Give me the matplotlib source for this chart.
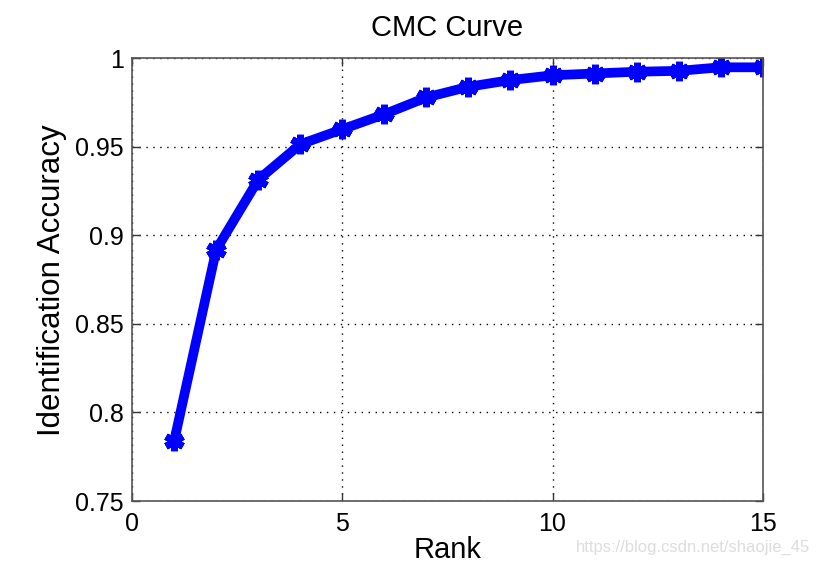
import matplotlib
matplotlib.use('Agg')
import matplotlib.pyplot as plt

# CMC values
ranks = [1, 2, 3, 4, 5, 6, 7, 8, 9, 10, 11, 12, 13, 14, 15]
accuracy = [0.784, 0.892, 0.9315, 0.9515, 0.960, 0.9685, 0.978, 0.984,
            0.9878, 0.9905, 0.9915, 0.9925, 0.993, 0.995, 0.995]
xticks = [0, 5, 10, 15]
yticks = [0.75, 0.8, 0.85, 0.9, 0.95, 1.0]
ytick_labels = ['0.75', '0.8', '0.85', '0.9', '0.95', '1']

plt.rcParams['font.family'] = ['Liberation Sans', 'DejaVu Sans']

fig = plt.figure(figsize=(8.21, 5.67), dpi=100)
ax = fig.add_axes([0.161, 0.1164, 0.768, 0.7805])

ax.plot(ranks, accuracy, color='#0000ff', linewidth=7,
        marker=(6, 2, 0), markersize=14, markeredgewidth=5,
        markeredgecolor='#0000ff', solid_joinstyle='round')

ax.set_xlim(0, 15)
ax.set_ylim(0.75, 1.0)
ax.set_xticks(xticks)
ax.set_yticks(yticks)
ax.set_yticklabels(ytick_labels)
ax.grid(True, linestyle=(0, (1, 4)), color='black', linewidth=1)
ax.tick_params(direction='in', top=True, right=True, labelsize=18,
               length=6, width=1, color='#333333')
ax.tick_params(axis='x', pad=8)
ax.tick_params(axis='y', pad=6)
for s in ax.spines.values():
    s.set_color('#555555')
    s.set_linewidth(1.2)

ax.set_title('CMC Curve', fontsize=21, pad=16)
ax.set_xlabel('Rank', fontsize=21, labelpad=0)
ax.set_ylabel('Identification Accuracy', fontsize=22.5, labelpad=6)

fig.text(0.987, 0.034, 'https://blog.csdn.net/shaojie_45', color='#dddddd',
         fontsize=12, ha='right', va='center')

fig.savefig('out.png', dpi=100)
